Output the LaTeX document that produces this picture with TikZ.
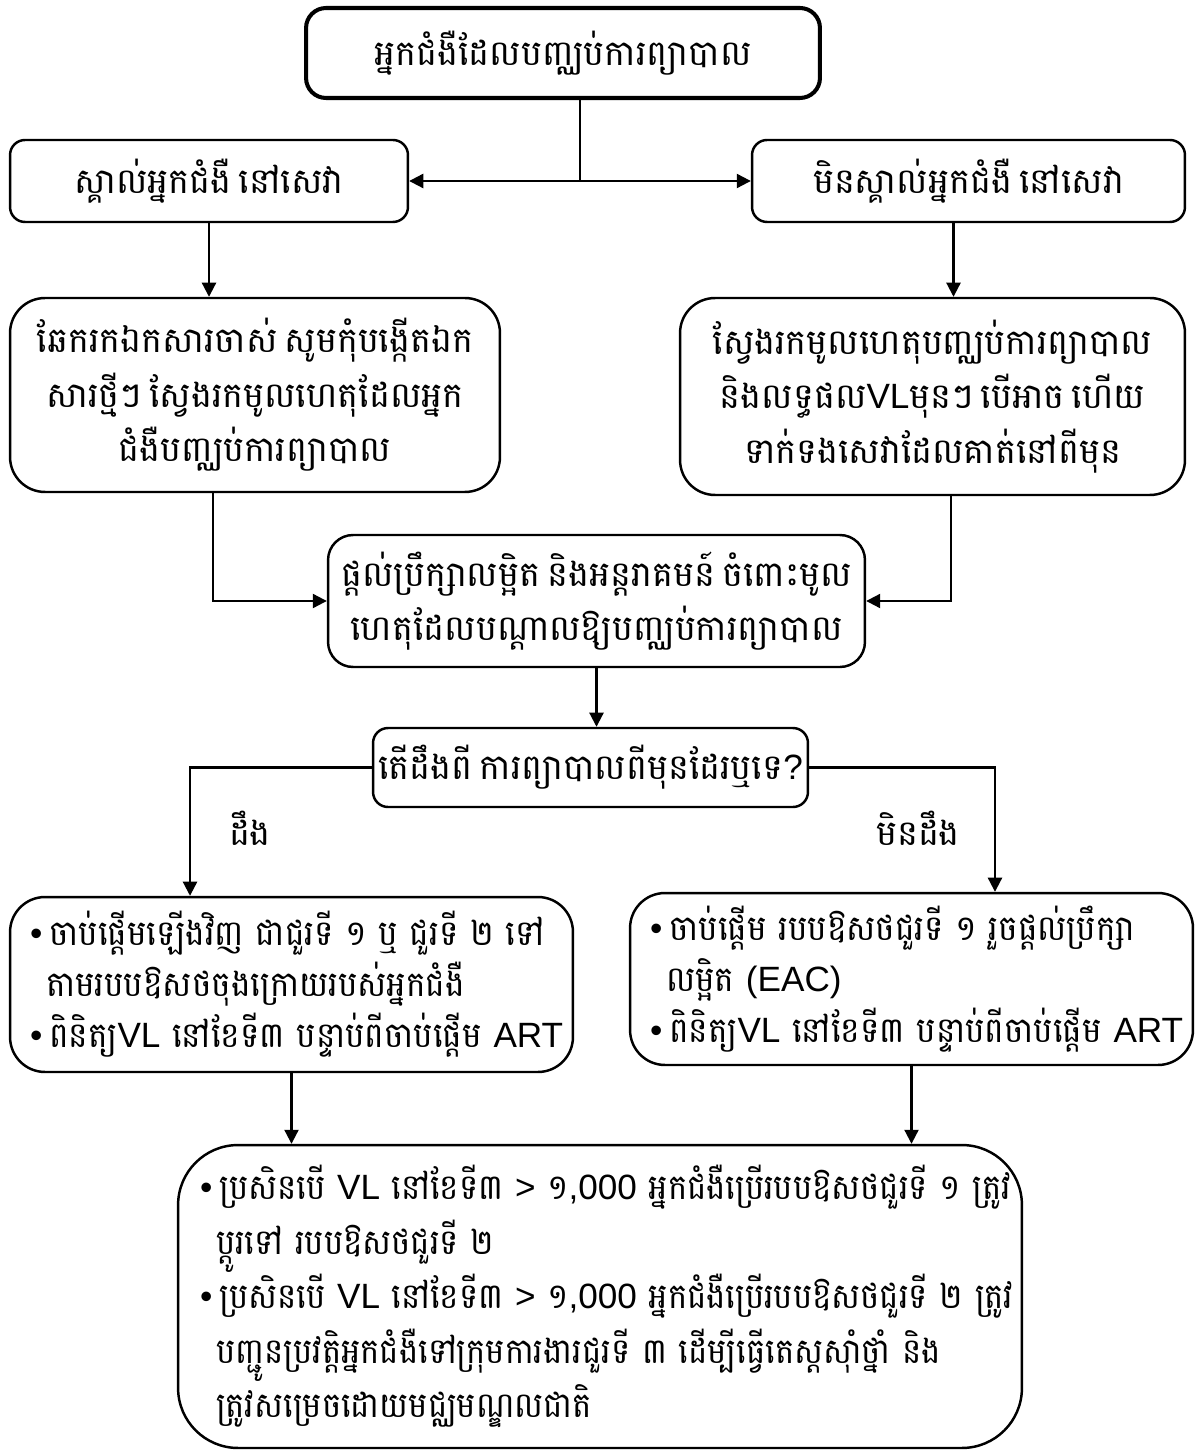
\documentclass[tikz,border=0pt]{standalone}
\usepackage{fontspec}
\setmainfont[Script=Khmer, WordSpace=0.6]{Battambang}
\newfontfamily\listkm[Script=Khmer, WordSpace=0.5, FakeStretch=0.93]{Battambang}
\newfontfamily\narrowkm[Script=Khmer, WordSpace=0.5, FakeStretch=0.92]{Battambang}
\newfontfamily\latinfont{Liberation Sans}
\newcommand{\lat}[1]{{\latinfont #1}}
\newcommand{\itm}[1]{\mbox{\lat{•}\hspace{0.14cm}#1}}
\newcommand{\ind}[1]{\mbox{\hspace*{0.32cm}#1}}
\usepackage{tikz}
\usetikzlibrary{arrows.meta, positioning, calc}
\tikzset{
  box/.style={rectangle, draw=black, fill=white, align=center,
    line width=1.4pt, rounded corners=0.3cm, inner sep=0pt,
    font={\fontsize{20}{31}\selectfont}},
  bigbox/.style={box, rounded corners=0.7cm},
  listbox/.style={box, rounded corners=0.7cm, align=left, inner xsep=0.4cm,
    font={\fontsize{20}{29}\listkm}},
  arrow/.style={-{Triangle[length=8pt,width=8pt]}, line width=1.2pt, color=black},
  line/.style={line width=1.2pt, color=black},
  lbl/.style={font={\fontsize{20}{30}\selectfont}}
}
\begin{document}
\begin{tikzpicture}[x=0.02cm, y=-0.02cm]
  \useasboundingbox (0,0) rectangle (1197,1452);

  \node[box, line width=2.3pt, rounded corners=0.4cm, minimum width=10.28cm, minimum height=1.8cm] (patient) at (563,53) {អ្នកជំងឺដែលបញ្ឈប់ការព្យាបាល};

  \node[box, minimum width=7.96cm, minimum height=1.64cm] (known) at (209,181) {ស្គាល់អ្នកជំងឺ នៅសេវា};
  \node[box, minimum width=8.66cm, minimum height=1.64cm] (unknown) at (968.5,181) {មិនស្គាល់អ្នកជំងឺ នៅសេវា};

  \node[bigbox, minimum width=9.8cm, minimum height=3.88cm] (checkold) at (255,395) {ឆែករកឯកសារចាស់ សូមកុំបង្កើតឯក\\សារថ្មីៗ ស្វែងរកមូលហេតុដែលអ្នក\\ជំងឺបញ្ឈប់ការព្យាបាល};
  \node[bigbox, minimum width=10.1cm, minimum height=3.94cm] (findcause) at (932.5,396.5) {ស្វែងរកមូលហេតុបញ្ឈប់ការព្យាបាល\\និងលទ្ធផល\lat{VL}មុនៗ បើអាច ហើយ\\ទាក់ទងសេវាដែលគាត់នៅពីមុន};

  \node[box, rounded corners=0.5cm, minimum width=10.74cm, minimum height=2.64cm] (counsel) at (596.5,601) {ផ្តល់ប្រឹក្សាលម្អិត និងអន្តរាគមន៍ ចំពោះមូល\\ហេតុដែលបណ្តាលឱ្យបញ្ឈប់ការព្យាបាល};

  \node[box, minimum width=8.7cm, minimum height=1.58cm] (decide) at (590.5,767.5) {តើដឹងពី ការព្យាបាលពីមុនដែរឬទេ\lat{?}};
  \node[lbl] (yes) at (250,828) {ដឹង};
  \node[lbl] (no) at (918,828) {មិនដឹង};

  \node[listbox, minimum width=11.26cm, minimum height=3.5cm, text width=10.46cm] (restart) at (291.5,984.5) {\itm{ចាប់ផ្តើមឡើងវិញ ជាជួរទី ១ ឬ ជួរទី ២ ទៅ}\\ \ind{តាមរបបឱសថចុងក្រោយរបស់អ្នកជំងឺ}\\ \itm{ពិនិត្យ\lat{VL} នៅខែទី៣ បន្ទាប់ពីចាប់ផ្តើម \lat{ART}}};
  \node[listbox, minimum width=11.26cm, minimum height=3.44cm, text width=10.46cm] (newstart) at (911.5,979) {\itm{ចាប់ផ្តើម របបឱសថជួរទី ១ រួចផ្តល់ប្រឹក្សា}\\ \ind{លម្អិត \lat{(EAC)}}\\ \itm{ពិនិត្យ\lat{VL} នៅខែទី៣ បន្ទាប់ពីចាប់ផ្តើម \lat{ART}}};

  \node[listbox, rounded corners=1.2cm, inner xsep=0.44cm, minimum width=16.88cm, minimum height=6.06cm, text width=16cm, font={\fontsize{20}{31}\narrowkm}] (switch) at (600,1296.5) {\itm{ប្រសិនបើ \lat{VL} នៅខែទី៣ \lat{>} ១\lat{,000} អ្នកជំងឺប្រើរបបឱសថជួរទី ១ ត្រូវ}\\ \ind{ប្តូរទៅ របបឱសថជួរទី ២}\\ \itm{ប្រសិនបើ \lat{VL} នៅខែទី៣ \lat{>} ១\lat{,000} អ្នកជំងឺប្រើរបបឱសថជួរទី ២ ត្រូវ}\\ \ind{បញ្ជូនប្រវត្តិអ្នកជំងឺទៅក្រុមការងារជួរទី ៣ ដើម្បីធ្វើតេស្តស៊ាំថ្នាំ និង}\\ \ind{ត្រូវសម្រេចដោយមជ្ឈមណ្ឌលជាតិ}};

  % connectors
  \coordinate (split) at (580,181);
  \draw[line] (split |- patient.south) -- (split);
  \draw[arrow] (split) -- (known.east);
  \draw[arrow] (split) -- (unknown.west);
  \draw[arrow] (known.south) -- (known.south |- checkold.north);
  \draw[arrow] ([xshift=-0.3cm]unknown.south) -- ([xshift=-0.3cm]unknown.south |- findcause.north);
  \draw[arrow] ([xshift=-0.84cm]checkold.south) |- (counsel.west);
  \draw[arrow] ([xshift=0.37cm]findcause.south) |- (counsel.east);
  \draw[arrow] (counsel.south) -- (counsel.south |- decide.north);
  \draw[arrow] (decide.west) -| ([xshift=-2.03cm]restart.north);
  \draw[arrow] (decide.east) -| ([xshift=1.67cm]newstart.north);
  \draw[arrow] (restart.south) -- (restart.south |- switch.north);
  \draw[arrow] (newstart.south) -- (newstart.south |- switch.north);
\end{tikzpicture}
\end{document}
